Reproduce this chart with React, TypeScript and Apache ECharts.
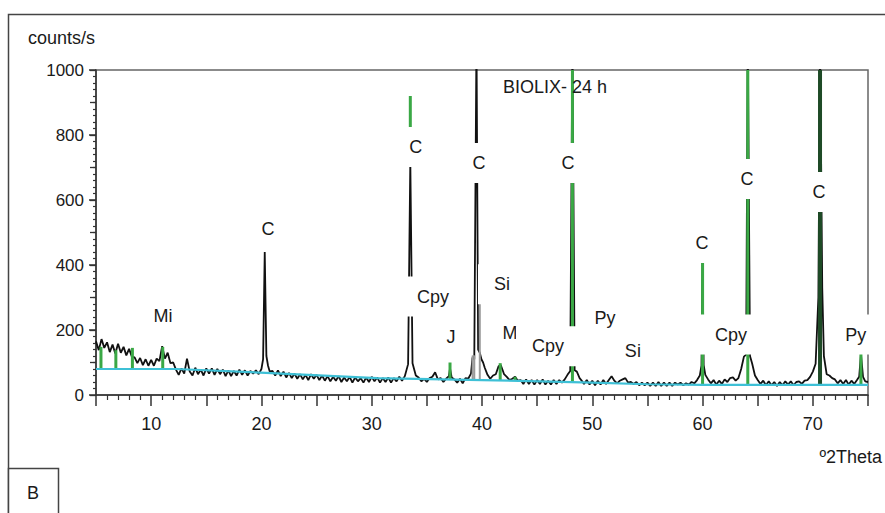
import React, { useEffect, useRef } from "react";
import * as echarts from "echarts";

// Measured diffractogram (2θ, counts/s)
const pattern: [number, number][] = [
  [5.0, 165], [5.25, 138], [5.5, 172], [5.75, 145], [6.0, 162], [6.25, 132], [6.5, 155], [6.75, 128],
  [7.0, 158], [7.25, 130], [7.5, 148], [7.75, 122], [8.0, 142], [8.25, 118], [8.5, 116], [8.75, 98],
  [9.0, 114], [9.25, 92], [9.5, 110], [9.75, 90], [10.0, 108], [10.25, 90], [10.5, 112], [10.75, 104],
  [11.0, 150], [11.25, 112], [11.5, 130], [11.75, 98], [12.0, 100], [12.25, 78], [12.5, 62], [12.75, 82],
  [13.0, 66], [13.25, 112], [13.5, 72], [13.75, 60], [14.0, 84], [14.25, 64], [14.5, 78], [14.75, 60],
  [15.0, 82], [15.25, 66], [15.5, 82], [15.75, 62], [16.0, 80], [16.25, 64], [16.5, 78], [16.75, 58],
  [17.0, 76], [17.25, 58], [17.5, 74], [17.75, 60], [18.0, 78], [18.25, 62], [18.5, 76], [18.75, 60],
  [19.0, 74], [19.25, 66], [19.5, 76], [19.75, 64], [20.0, 80], [20.15, 110], [20.3, 440], [20.45, 120],
  [20.6, 90], [20.75, 72], [21.0, 74], [21.25, 60], [21.5, 76], [21.75, 58], [22.0, 72], [22.25, 54],
  [22.5, 68], [22.75, 52], [23.0, 66], [23.25, 50], [23.5, 64], [23.75, 48], [24.0, 62], [24.25, 46],
  [24.5, 64], [24.75, 50], [25.0, 62], [25.25, 46], [25.5, 60], [25.75, 44], [26.0, 58], [26.25, 42],
  [26.5, 56], [26.75, 44], [27.0, 58], [27.25, 40], [27.5, 54], [27.75, 42], [28.0, 56], [28.25, 38],
  [28.5, 54], [28.75, 42], [29.0, 52], [29.25, 38], [29.5, 54], [29.75, 40], [30.0, 56], [30.25, 42],
  [30.5, 54], [30.75, 38], [31.0, 52], [31.25, 40], [31.5, 54], [31.75, 38], [32.0, 52], [32.25, 42],
  [32.5, 56], [32.75, 44], [33.0, 58], [33.3, 95], [33.5, 720], [33.7, 98], [34.0, 60], [34.25, 54],
  [34.5, 42], [34.75, 50], [35.0, 40], [35.25, 52], [35.5, 56], [35.75, 70], [36.0, 48], [36.25, 52],
  [36.5, 40], [36.75, 50], [37.0, 58], [37.1, 82], [37.25, 54], [37.5, 48], [37.75, 38], [38.0, 50],
  [38.25, 36], [38.5, 52], [38.75, 50], [39.0, 66], [39.15, 118], [39.3, 110], [39.5, 1100], [39.65, 140],
  [39.8, 130], [39.95, 110], [40.1, 100], [40.25, 84], [40.5, 62], [40.75, 50], [41.0, 60], [41.25, 64],
  [41.5, 88], [41.7, 92], [41.9, 74], [42.0, 64], [42.25, 56], [42.5, 46], [42.75, 50], [43.0, 56],
  [43.25, 44], [43.5, 46], [43.75, 34], [44.0, 48], [44.25, 34], [44.5, 46], [44.75, 32], [45.0, 46],
  [45.25, 34], [45.5, 48], [45.75, 32], [46.0, 44], [46.25, 32], [46.5, 46], [46.75, 34], [47.0, 46],
  [47.25, 38], [47.5, 48], [47.75, 62], [48.0, 74], [48.2, 1100], [48.4, 76], [48.6, 72], [48.85, 52],
  [49.0, 46], [49.25, 34], [49.5, 46], [49.75, 32], [50.0, 44], [50.25, 30], [50.5, 44], [50.75, 32],
  [51.0, 46], [51.25, 34], [51.5, 46], [51.75, 58], [52.0, 44], [52.25, 36], [52.5, 44], [52.75, 48],
  [53.0, 52], [53.25, 38], [53.5, 40], [53.75, 34], [54.0, 40], [54.25, 30], [54.5, 38], [54.75, 30],
  [55.0, 38], [55.25, 28], [55.5, 38], [55.75, 28], [56.0, 40], [56.25, 28], [56.5, 38], [56.75, 28],
  [57.0, 38], [57.25, 28], [57.5, 38], [57.75, 32], [58.0, 38], [58.25, 30], [58.5, 36], [58.75, 32],
  [59.0, 40], [59.25, 36], [59.5, 46], [59.75, 60], [59.9, 90], [60.0, 415], [60.1, 92], [60.25, 62],
  [60.5, 48], [60.75, 36], [61.0, 46], [61.25, 32], [61.5, 44], [61.75, 34], [62.0, 48], [62.25, 40],
  [62.5, 52], [62.75, 54], [63.0, 44], [63.25, 52], [63.5, 80], [63.75, 118], [63.95, 124], [64.1, 1100],
  [64.3, 120], [64.5, 96], [64.75, 60], [65.0, 46], [65.25, 34], [65.5, 44], [65.75, 30], [66.0, 42],
  [66.25, 30], [66.5, 40], [66.75, 28], [67.0, 40], [67.25, 30], [67.5, 42], [67.75, 32], [68.0, 42],
  [68.25, 30], [68.5, 40], [68.75, 42], [69.0, 34], [69.25, 44], [69.5, 46], [69.75, 56], [70.0, 72],
  [70.25, 96], [70.5, 300], [70.65, 1100], [70.85, 330], [71.0, 120], [71.25, 64], [71.5, 60], [71.75, 52],
  [72.0, 48], [72.25, 36], [72.5, 46], [72.75, 34], [73.0, 46], [73.25, 32], [73.5, 44], [73.75, 34],
  [74.0, 46], [74.2, 56], [74.36, 125], [74.55, 56], [74.75, 42], [75.0, 40],
];

// Fitted background (cyan)
const background: [number, number][] = [
  [5, 80], [12.3, 80], [20.4, 68], [30.5, 52], [40, 46], [50, 38], [55, 33], [60, 31], [75, 31],
];

// Reference sticks: [2θ, from, to]
const greenSticks: [number, number, number][] = [
  [5.45, 80, 148], [6.8, 80, 138], [8.3, 80, 145], [11.05, 80, 148],
  [33.5, 720, 920], [37.1, 46, 100], [41.65, 45, 98], [43.0, 44, 56],
  [48.2, 40, 1000], [60.0, 32, 415], [64.1, 32, 1000], [74.36, 31, 130],
];
const darkSticks: [number, number, number][] = [[70.65, 31, 1000]];
const graySticks: [number, number, number][] = [[39.15, 45, 122], [39.3, 45, 122], [39.8, 45, 282]];

// Phase labels: [text, 2θ, counts]
const phaseLabels: [string, number, number][] = [
  ["Mi", 11.07, 243], ["C", 20.59, 511], ["C", 34.0, 763], ["C", 39.72, 714], ["C", 47.79, 714],
  ["C", 59.94, 468], ["C", 64.02, 665], ["C", 70.55, 625], ["Cpy", 35.55, 303], ["Si", 41.81, 341],
  ["J", 37.18, 177], ["M", 42.53, 192], ["Cpy", 45.98, 150], ["Py", 51.15, 238], ["Si", 53.68, 134],
  ["Cpy", 62.57, 186], ["Py", 73.9, 186],
];

const xLabelValues = [10, 20, 30, 40, 50, 60, 70];

const FONT = '"Liberation Sans", Arial, Helvetica, sans-serif';

function stickSeries(data: [number, number, number][], color: string, width: number, z: number) {
  return {
    type: "custom",
    clip: true,
    z,
    silent: true,
    data,
    encode: { x: 0, y: [1, 2] },
    renderItem: (params: any, api: any) => {
      const p0 = api.coord([api.value(0), api.value(1)]);
      const p1 = api.coord([api.value(0), api.value(2)]);
      return {
        type: "line",
        shape: { x1: p0[0], y1: p0[1], x2: p1[0], y2: p1[1] },
        style: { stroke: color, lineWidth: width },
      };
    },
  };
}

export default function App() {
  const ref = useRef<HTMLDivElement>(null);
  useEffect(() => {
    if (!ref.current) return;
    const chart = echarts.init(ref.current, undefined, { renderer: "svg" });
    const option: any = {
      animation: false,
      backgroundColor: "#ffffff",
      grid: {
        left: 96, top: 70, right: 17, bottom: 118,
        show: true, borderColor: "#666", borderWidth: 1.5, backgroundColor: "transparent",
      },
      xAxis: {
        type: "value", min: 5, max: 75, interval: 5,
        axisLine: { show: true, lineStyle: { color: "#333", width: 1.5 } },
        axisTick: { show: true, length: 11, lineStyle: { color: "#333", width: 1.5 } },
        minorTick: { show: true, splitNumber: 5, length: 5, lineStyle: { color: "#333", width: 1.2 } },
        axisLabel: {
          fontSize: 18, color: "#1a1a1a", fontFamily: FONT, margin: 20,
          formatter: (v: number) => (xLabelValues.includes(v) ? String(v) : ""),
        },
        splitLine: { show: false },
        minorSplitLine: { show: false },
      },
      yAxis: [
        {
          type: "value", min: 0, max: 1000, interval: 200,
          axisLine: { show: true, lineStyle: { color: "#333", width: 1.5 } },
          axisTick: { show: true, length: 7, lineStyle: { color: "#333", width: 1.5 } },
          minorTick: { show: true, splitNumber: 10, length: 3, lineStyle: { color: "#333", width: 1.2 } },
          axisLabel: {
            fontSize: 17, color: "#1a1a1a", fontFamily: FONT, margin: 12,
            formatter: (v: number) => String(v),
          },
          splitLine: { show: false },
        },
        {
          type: "value", min: 0, max: 1000, interval: 100, position: "left",
          axisLine: { show: false },
          axisTick: { show: true, length: 6, lineStyle: { color: "#333", width: 1.3 } },
          axisLabel: { show: false },
          splitLine: { show: false },
        },
      ],
      graphic: [
        { type: "rect", z: 100, shape: { x: 8.5, y: 14.5, width: 900, height: 520 }, style: { fill: "none", stroke: "#444", lineWidth: 1.5 } },
        { type: "rect", z: 100, shape: { x: 8.5, y: 468.5, width: 50, height: 60 }, style: { fill: "#fff", stroke: "#444", lineWidth: 1.5 } },
        { type: "text", z: 101, x: 33, y: 493, style: { text: "B", font: `18px ${FONT}`, fill: "#1a1a1a", align: "center", verticalAlign: "middle" } },
        { type: "text", z: 101, x: 28, y: 38, style: { text: "counts/s", font: `18px ${FONT}`, fill: "#1a1a1a", align: "left", verticalAlign: "middle" } },
        { type: "text", z: 101, x: 882, y: 457, style: { text: "º2Theta", font: `18px ${FONT}`, fill: "#1a1a1a", align: "right", verticalAlign: "middle" } },
        { type: "text", z: 101, x: 503, y: 87, style: { text: "BIOLIX- 24 h", font: `18px ${FONT}`, fill: "#1a1a1a", align: "left", verticalAlign: "middle" } },
      ],
      series: [
        {
          type: "line", data: pattern, showSymbol: false, symbol: "none", clip: true, z: 2,
          lineStyle: { color: "#111", width: 1.8 },
        },
        stickSeries(graySticks, "#9a9a9a", 2, 3),
        stickSeries(greenSticks, "#3aa845", 3, 4),
        stickSeries(darkSticks, "#1e4a26", 4, 4),
        {
          type: "line", data: background, showSymbol: false, symbol: "none", clip: true, z: 5,
          lineStyle: { color: "#3ec0d6", width: 2.2 },
        },
        {
          type: "custom", z: 10, silent: true,
          data: phaseLabels.map((l) => [l[1], l[2]]),
          encode: { x: 0, y: 1 },
          renderItem: (params: any, api: any) => {
            const lbl = phaseLabels[params.dataIndex];
            const p = api.coord([lbl[1], lbl[2]]);
            return {
              type: "text", x: p[0], y: p[1],
              style: {
                text: lbl[0], font: `18px ${FONT}`, fill: "#1a1a1a",
                align: "center", verticalAlign: "middle",
                backgroundColor: "#ffffff", padding: [11, 16],
              },
            };
          },
        },
      ],
    };
    chart.setOption(option);
    return () => chart.dispose();
  }, []);
  return (
    <div
      ref={ref}
      style={{ position: "fixed", left: 0, top: 0, width: 885, height: 513, background: "#fff" }}
    />
  );
}
